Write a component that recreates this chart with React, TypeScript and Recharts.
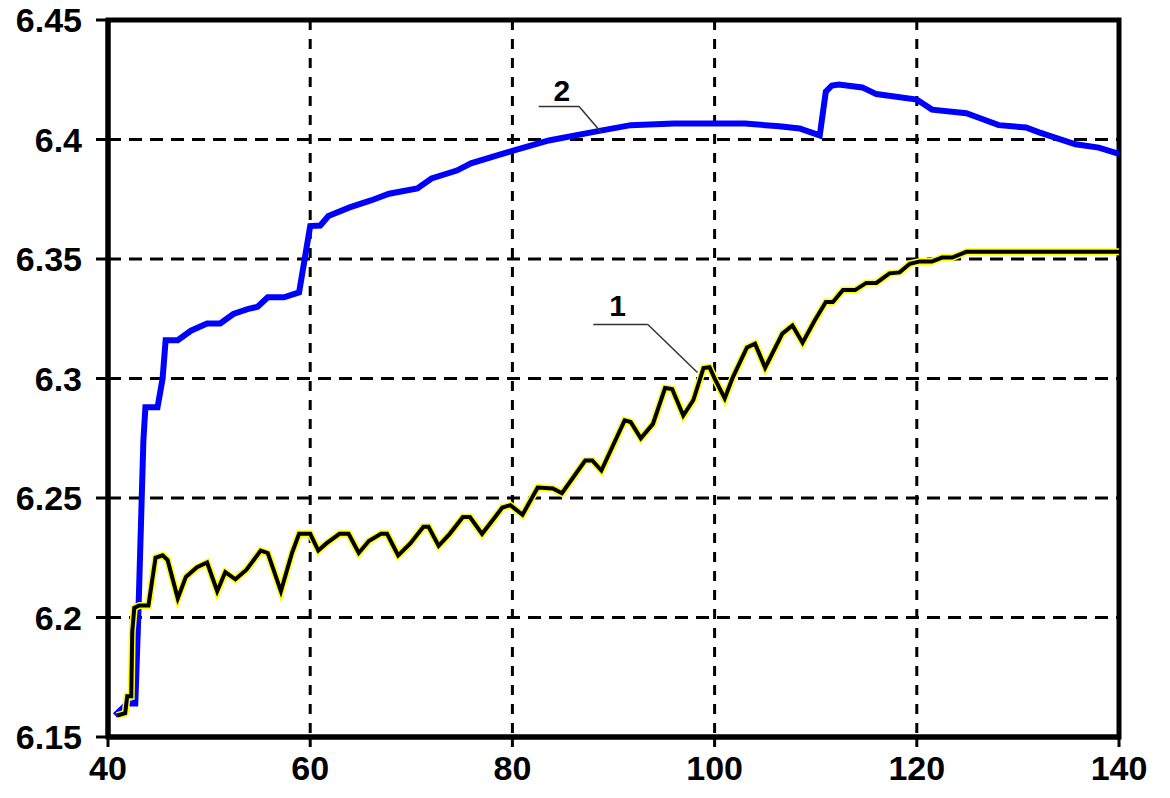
import {
  LineChart, Line, XAxis, YAxis, CartesianGrid, ReferenceArea, ReferenceLine, ReferenceDot,
} from 'recharts';

// curve 1 (black with yellow edge)
const x1 = [40.9, 41.7, 41.9, 42.3, 42.4, 42.6, 43.1, 44.0, 44.7, 45.4, 45.9, 46.9, 47.7, 48.8, 49.8, 50.8, 51.6, 52.6, 53.7, 55.1, 55.8, 57.1, 58.2, 58.9, 60.0, 60.8, 61.6, 62.9, 63.8, 64.8, 65.8, 67.0, 67.6, 68.7, 69.9, 71.2, 71.7, 72.7, 73.8, 75.1, 75.8, 77.0, 78.1, 79.0, 79.8, 81.0, 82.5, 84.0, 84.9, 87.2, 87.9, 88.8, 91.1, 91.7, 92.7, 93.9, 95.1, 95.8, 96.9, 97.9, 98.9, 99.5, 100.0, 101.0, 101.8, 103.2, 104.0, 105.0, 106.7, 107.7, 108.7, 109.9, 111.0, 111.7, 112.7, 113.9, 115.0, 116.0, 117.3, 118.3, 119.3, 120.3, 121.5, 122.5, 123.5, 124.9, 140.0];
const y1 = [6.159, 6.160, 6.167, 6.167, 6.194, 6.204, 6.205, 6.205, 6.225, 6.226, 6.224, 6.208, 6.217, 6.221, 6.223, 6.211, 6.219, 6.216, 6.220, 6.228, 6.227, 6.211, 6.227, 6.235, 6.235, 6.228, 6.231, 6.235, 6.235, 6.227, 6.232, 6.235, 6.235, 6.226, 6.231, 6.238, 6.238, 6.230, 6.235, 6.242, 6.242, 6.235, 6.241, 6.246, 6.247, 6.243, 6.2544, 6.254, 6.252, 6.2657, 6.2657, 6.2615, 6.2825, 6.2818, 6.275, 6.281, 6.296, 6.2956, 6.2845, 6.291, 6.3044, 6.3047, 6.300, 6.2917, 6.3005, 6.313, 6.3146, 6.3045, 6.3188, 6.3222, 6.315, 6.3243, 6.332, 6.332, 6.337, 6.337, 6.340, 6.340, 6.344, 6.3444, 6.348, 6.349, 6.349, 6.3506, 6.3506, 6.353, 6.353];

// curve 2 (blue)
const x2 = [40.7, 41.9, 42.7, 43.0, 43.5, 43.7, 44.9, 45.4, 45.7, 46.9, 48.2, 49.8, 51.1, 52.4, 53.8, 54.8, 55.8, 57.4, 58.9, 60.0, 61.0, 61.8, 63.9, 66.0, 67.8, 70.6, 72.0, 74.5, 75.9, 79.4, 83.6, 87.8, 91.7, 96.0, 103.0, 106.4, 108.4, 110.4, 111.0, 111.6, 112.3, 114.6, 116.0, 120.0, 121.5, 124.9, 126.2, 128.1, 130.8, 132.1, 135.7, 138.0, 140.0];
const y2 = [6.159, 6.164, 6.164, 6.201, 6.274, 6.288, 6.288, 6.300, 6.316, 6.316, 6.320, 6.323, 6.323, 6.327, 6.329, 6.330, 6.334, 6.334, 6.336, 6.3638, 6.364, 6.368, 6.3716, 6.3745, 6.3773, 6.3795, 6.3837, 6.387, 6.390, 6.3945, 6.3996, 6.403, 6.406, 6.4067, 6.4067, 6.4055, 6.4046, 6.4017, 6.420, 6.4226, 6.423, 6.4218, 6.419, 6.4167, 6.4125, 6.411, 6.409, 6.406, 6.405, 6.403, 6.398, 6.3966, 6.394];

const xTicks = [40, 60, 80, 100, 120, 140];
const yTicks = [6.15, 6.2, 6.25, 6.3, 6.35, 6.4, 6.45];

const series1 = x1.map((x, i) => ({ x, y: y1[i] }));
const series2 = x2.map((x, i) => ({ x, y: y2[i] }));

const FONT = '"Liberation Sans", Arial, sans-serif';

const XTick = (props: any) => {
  const { x, y, payload } = props;
  return (
    <text x={x} y={y} dy={31} textAnchor="middle" fontFamily={FONT} fontWeight={700} fontSize={34} fill="#000">
      {payload.value}
    </text>
  );
};

const YTick = (props: any) => {
  const { x, y, payload } = props;
  return (
    <text x={x} y={y} dx={-12} dy={12} textAnchor="end" fontFamily={FONT} fontWeight={700} fontSize={34} fill="#000">
      {String(Number(payload.value.toFixed(2)))}
    </text>
  );
};

const tagLabel = (value: string) => ({
  value, position: 'center' as const, fill: '#000', fontSize: 30, fontWeight: 700, fontFamily: FONT,
});

export default function App() {
  return (
    <div style={{ margin: -8, fontFamily: FONT }}>
      <LineChart width={1170} height={798} margin={{ top: 20, right: 51, left: 18, bottom: 16 }}>
        <CartesianGrid vertical={false} stroke="#000" strokeWidth={3} strokeDasharray="13 8" />
        <CartesianGrid horizontal={false} stroke="#000" strokeWidth={3} strokeDasharray="10 9" />
        <XAxis
          type="number" dataKey="x" domain={[40, 140]} ticks={xTicks} allowDataOverflow
          axisLine={{ stroke: '#000', strokeWidth: 5 }} tickLine={{ stroke: '#000', strokeWidth: 3 }}
          tickSize={10} height={45} tick={<XTick />}
        />
        <YAxis
          type="number" dataKey="y" domain={[6.15, 6.45]} ticks={yTicks} allowDataOverflow
          axisLine={{ stroke: '#000', strokeWidth: 5 }} tickLine={{ stroke: '#000', strokeWidth: 3 }}
          tickSize={12} width={90} tick={<YTick />}
        />
        <ReferenceArea x1={40} x2={140} y1={6.15} y2={6.45} fill="none" stroke="#000" strokeWidth={5} />
        <Line data={series2} dataKey="y" type="linear" stroke="#0000ff" strokeWidth={6} dot={false} isAnimationActive={false} />
        <Line data={series1} dataKey="y" type="linear" stroke="#ffff00" strokeWidth={7} dot={false} isAnimationActive={false} />
        <Line data={series1} dataKey="y" type="linear" stroke="#000" strokeWidth={4} dot={false} isAnimationActive={false} />
        <ReferenceLine segment={[{ x: 82.6, y: 6.4138 }, { x: 86.6, y: 6.4138 }]} stroke="#333" strokeWidth={1.5} />
        <ReferenceLine segment={[{ x: 86.6, y: 6.4138 }, { x: 88.8, y: 6.4029 }]} stroke="#333" strokeWidth={1.5} />
        <ReferenceLine segment={[{ x: 88.0, y: 6.3226 }, { x: 93.4, y: 6.3226 }]} stroke="#333" strokeWidth={1.5} />
        <ReferenceLine segment={[{ x: 93.4, y: 6.3226 }, { x: 98.3, y: 6.3025 }]} stroke="#333" strokeWidth={1.5} />
        <ReferenceDot x={84.9} y={6.4205} r={0} stroke="none" fill="none" label={tagLabel('2')} />
        <ReferenceDot x={90.4} y={6.3306} r={0} stroke="none" fill="none" label={tagLabel('1')} />
      </LineChart>
    </div>
  );
}
